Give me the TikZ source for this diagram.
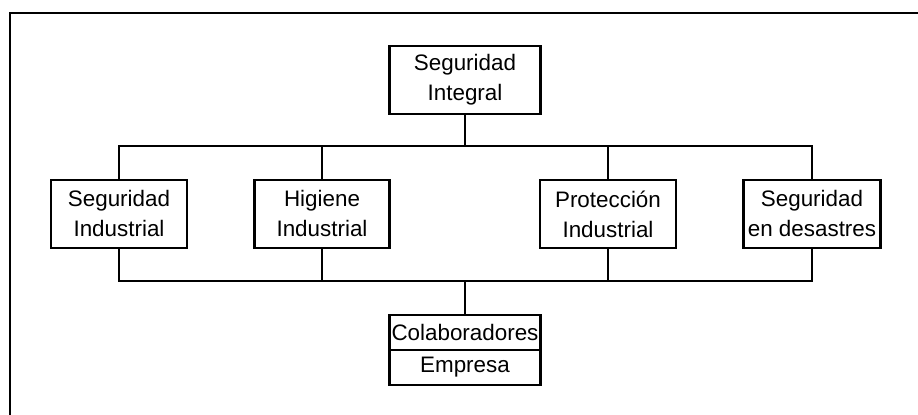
\documentclass[tikz,border=0pt]{standalone}
\usepackage{fontspec}
\setmainfont{Liberation Sans}
\usetikzlibrary{positioning}
\tikzset{box/.style={draw, line width=1.1pt, align=center, inner sep=1pt,
    minimum height=34pt, font=\fontsize{11.2}{15}\selectfont}}
\tikzset{cell/.style={box, minimum width=75.5pt, minimum height=17.5pt}}
\tikzset{link/.style={line width=1.1pt}}

\begin{document}
\begin{tikzpicture}[x=0.5pt, y=-0.5pt]
	\useasboundingbox (0,0) rectangle (918,415);
	\draw[link] (10,415) -- (10,13) -- (918,13);
	\node[box, minimum width=75.5pt] (top) at (465,80) {Seguridad\\Integral};
	\node[box, minimum width=68pt] (si) at (119,214) {Seguridad\\Industrial};
	\node[box, minimum width=67.5pt] (hi) at (322,214) {Higiene\\Industrial};
	\node[box, minimum width=68pt] (pi) at (608,214) {Protección\\Industrial};
	\node[box, minimum width=68.5pt] (sd) at (812,214) {Seguridad\\en desastres};
	\node[cell] (col) at (465,332.5) {Colaboradores};
	\node[cell, below=-1.1pt of col] (emp) {Empresa};
	\coordinate (upbus) at (465,146);
	\coordinate (lowbus) at (465,281);
	\draw[link] (top.south) -- (upbus);
	\foreach \n in {si,hi,pi,sd}
		\draw[link] (upbus) -| (\n.north);
	\foreach \n in {si,hi,pi,sd}
		\draw[link] (\n.south) |- (lowbus);
	\draw[link] (lowbus) -- (col.north);
\end{tikzpicture}
\end{document}
